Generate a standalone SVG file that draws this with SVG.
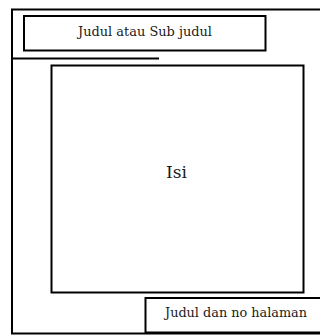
<svg xmlns="http://www.w3.org/2000/svg" width="320" height="336" viewBox="0 0 320 336">
<style>
.box{fill:none;stroke:#000;stroke-width:2}
.t{font-family:"DejaVu Serif","Liberation Serif",serif;fill:#1a1a1a}
</style>
<rect width="320" height="336" fill="#fff"/>
<g id="page">
<rect class="box" x="12" y="9.5" width="320" height="324"/>
</g>
<g id="connectors">
<line class="box" x1="12" y1="58.5" x2="159" y2="58.5"/>
</g>
<g id="title">
<rect class="box" x="24" y="16" width="241.5" height="34.5"/>
<text class="t" x="145" y="35.5" font-size="12" text-anchor="middle" textLength="134" lengthAdjust="spacingAndGlyphs">Judul atau Sub judul</text>
</g>
<g id="isi">
<rect class="box" x="51.5" y="65.5" width="252" height="227"/>
<text class="t" x="176.5" y="178" font-size="16" text-anchor="middle" textLength="21" lengthAdjust="spacingAndGlyphs">Isi</text>
</g>
<g id="footer">
<rect class="box" x="145.5" y="298" width="190" height="34.5"/>
<text class="t" x="236" y="316.5" font-size="12" text-anchor="middle" textLength="142" lengthAdjust="spacingAndGlyphs">Judul dan no halaman</text>
</g>
</svg>
